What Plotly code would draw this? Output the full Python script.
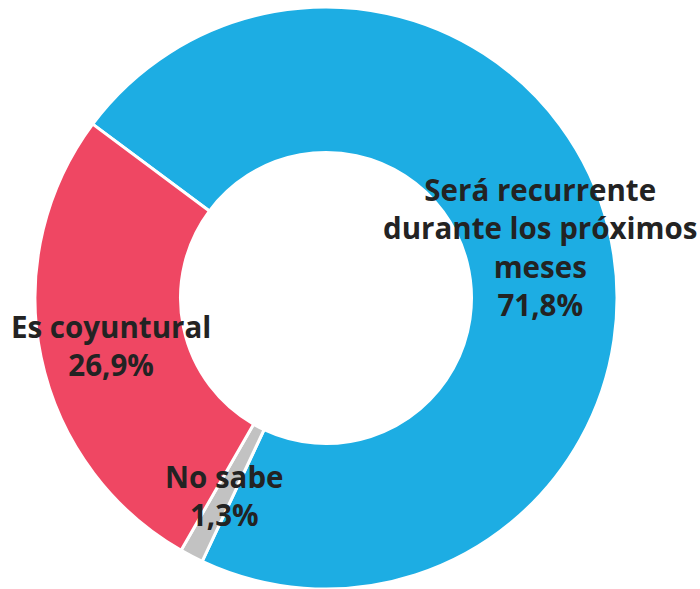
import plotly.graph_objects as go

categories = ["Será recurrente durante los próximos meses", "No sabe", "Es coyuntural"]
values = [71.8, 1.3, 26.9]
colors = ["#1DADE3", "#C2C2C2", "#EF4763"]
label_texts = ["Será recurrente<br>durante los próximos<br>meses<br>71,8%", "No sabe<br>1,3%", "Es coyuntural<br>26,9%"]
label_pos = [(0.771, 0.581), (0.32, 0.158), (0.159, 0.414)]

fig = go.Figure(go.Pie(
    labels=categories,
    values=values,
    hole=0.5,
    sort=False,
    direction="clockwise",
    rotation=306.7,
    marker=dict(colors=colors, line=dict(color="white", width=3)),
    textinfo="none",
    hoverinfo="label+percent",
    domain=dict(x=[35/700, 617/700], y=[0, 582/589]),
    showlegend=False,
))

for t, (x, y) in zip(label_texts, label_pos):
    fig.add_annotation(x=x, y=y, xref="paper", yref="paper", text=f"<b>{t}</b>",
                       showarrow=False, xanchor="center", yanchor="middle",
                       font=dict(family="Open Sans", size=29.5, color="#232323"))

fig.update_layout(width=700, height=589, margin=dict(l=0, r=0, t=0, b=0),
                  paper_bgcolor="white", plot_bgcolor="white")
fig.write_html("out.html", config={"displayModeBar": False},
               post_script="document.body.style.margin='0';")
